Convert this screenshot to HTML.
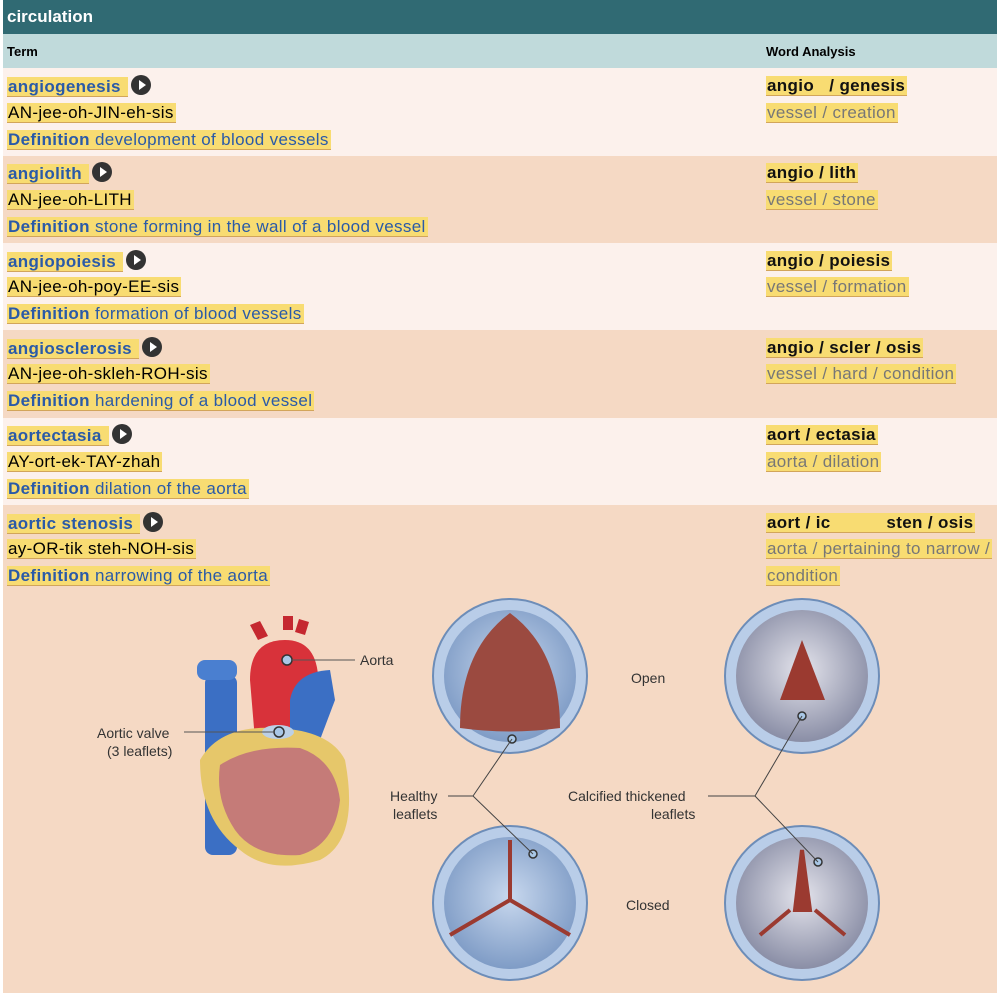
<!DOCTYPE html>
<html><head><meta charset="utf-8"><style>
body{margin:0;width:1000px;height:993px;overflow:hidden;background:#fff;font-family:"Liberation Sans",sans-serif;}
.wrap{position:absolute;left:3px;top:0;width:994px;height:993px;}
.hdr{position:absolute;left:0;top:0;width:994px;height:34px;background:#306a73;color:#fff;font-weight:bold;font-size:17px;line-height:34px;padding-left:4px;box-sizing:border-box;}
.sub{position:absolute;left:0;top:34px;width:994px;height:34px;background:#c0dadb;font-size:13px;font-weight:bold;}
.sub span{position:absolute;top:10px;}
.row{position:absolute;left:0;width:994px;}
.l{background:#fcf1ec}.p{background:#f5d9c4}
.ln{position:absolute;font-size:17px;letter-spacing:0.35px;line-height:21px;white-space:nowrap;}
.h{background:#f8dc72;border-bottom:1.5px solid #d2a55a;padding:0 2px 0 1px;}
.t{color:#2a5aa8;font-weight:bold}
.d{color:#2a5aa8}
.k{color:#111;font-weight:bold}
.g{color:#777}
.play{display:inline-block;width:20px;height:20px;border-radius:50%;background:#333;vertical-align:-3px;position:relative;margin-left:3px}
.play:after{content:"";position:absolute;left:8px;top:5px;border-left:7px solid #fff;border-top:5px solid transparent;border-bottom:5px solid transparent}
</style></head><body><div class="wrap">
<div class="hdr">circulation</div>
<div class="sub"><span style="left:4px">Term</span><span style="left:763px">Word Analysis</span></div>

<div class="row l" style="top:68px;height:88px"></div>
<div class="row p" style="top:156px;height:87px"></div>
<div class="row l" style="top:243px;height:87px"></div>
<div class="row p" style="top:330px;height:88px"></div>
<div class="row l" style="top:418px;height:87px"></div>
<div class="row p" style="top:505px;height:488px"></div>

<div class="ln" style="left:4px;top:75px"><span class="h t">angiogenesis </span><span class="play"></span></div>
<div class="ln" style="left:4px;top:102px"><span class="h">AN-jee-oh-JIN-eh-sis</span></div>
<div class="ln" style="left:4px;top:129px"><span class="h d"><b>Definition</b> development of blood vessels</span></div>
<div class="ln" style="left:763px;top:75px"><span class="h k">angio &nbsp; / genesis</span></div>
<div class="ln" style="left:763px;top:102px"><span class="h g">vessel / creation</span></div>

<div class="ln" style="left:4px;top:162px"><span class="h t">angiolith </span><span class="play"></span></div>
<div class="ln" style="left:4px;top:189px"><span class="h">AN-jee-oh-LITH</span></div>
<div class="ln" style="left:4px;top:216px"><span class="h d"><b>Definition</b> stone forming in the wall of a blood vessel</span></div>
<div class="ln" style="left:763px;top:162px"><span class="h k">angio / lith</span></div>
<div class="ln" style="left:763px;top:189px"><span class="h g">vessel / stone</span></div>

<div class="ln" style="left:4px;top:250px"><span class="h t">angiopoiesis </span><span class="play"></span></div>
<div class="ln" style="left:4px;top:276px"><span class="h">AN-jee-oh-poy-EE-sis</span></div>
<div class="ln" style="left:4px;top:303px"><span class="h d"><b>Definition</b> formation of blood vessels</span></div>
<div class="ln" style="left:763px;top:250px"><span class="h k">angio / poiesis</span></div>
<div class="ln" style="left:763px;top:276px"><span class="h g">vessel / formation</span></div>

<div class="ln" style="left:4px;top:337px"><span class="h t">angiosclerosis </span><span class="play"></span></div>
<div class="ln" style="left:4px;top:363px"><span class="h">AN-jee-oh-skleh-ROH-sis</span></div>
<div class="ln" style="left:4px;top:390px"><span class="h d"><b>Definition</b> hardening of a blood vessel</span></div>
<div class="ln" style="left:763px;top:337px"><span class="h k">angio / scler / osis</span></div>
<div class="ln" style="left:763px;top:363px"><span class="h g">vessel / hard / condition</span></div>

<div class="ln" style="left:4px;top:424px"><span class="h t">aortectasia </span><span class="play"></span></div>
<div class="ln" style="left:4px;top:451px"><span class="h">AY-ort-ek-TAY-zhah</span></div>
<div class="ln" style="left:4px;top:478px"><span class="h d"><b>Definition</b> dilation of the aorta</span></div>
<div class="ln" style="left:763px;top:424px"><span class="h k">aort / ectasia</span></div>
<div class="ln" style="left:763px;top:451px"><span class="h g">aorta / dilation</span></div>

<div class="ln" style="left:4px;top:512px"><span class="h t">aortic stenosis </span><span class="play"></span></div>
<div class="ln" style="left:4px;top:538px"><span class="h">ay-OR-tik steh-NOH-sis</span></div>
<div class="ln" style="left:4px;top:565px"><span class="h d"><b>Definition</b> narrowing of the aorta</span></div>
<div class="ln" style="left:763px;top:512px"><span class="h k">aort / ic &nbsp; &nbsp; &nbsp; &nbsp; &nbsp; sten / osis</span></div>
<div class="ln" style="left:763px;top:538px"><span class="h g">aorta / pertaining to narrow /</span></div>
<div class="ln" style="left:763px;top:565px"><span class="h g">condition</span></div>

<svg style="position:absolute;left:-3px;top:0" width="1000" height="993" font-family="Liberation Sans,sans-serif" font-size="14" fill="#333">
<defs>
<radialGradient id="vb" cx="50%" cy="45%" r="55%"><stop offset="0" stop-color="#c8d8ee"/><stop offset="1" stop-color="#7f9cc6"/></radialGradient>
<radialGradient id="cal" cx="50%" cy="45%" r="55%"><stop offset="0" stop-color="#e4e4ec"/><stop offset="1" stop-color="#8a8ea6"/></radialGradient>
</defs>
<rect x="205" y="675" width="32" height="180" rx="8" fill="#3b6fc4"/>
<rect x="197" y="660" width="40" height="20" rx="8" fill="#4a7fd0"/>
<path d="M250 680 Q250 640 285 640 Q315 640 318 675 L320 735 L255 740Z" fill="#d8323a"/>
<path d="M258 640 l-8 -15 l10 -4 l8 15Z M283 630 v-14 h10 v14Z M295 632 l4 -13 l10 3 l-4 13Z" fill="#c52830"/>
<path d="M290 700 Q295 672 330 670 L335 700 L318 745 L290 740Z" fill="#3b6fc4"/>
<path d="M200 760 Q220 725 275 728 Q330 730 345 760 Q360 840 320 860 Q270 875 240 850 Q200 820 200 760Z" fill="#e6c76a"/>
<path d="M220 765 Q250 745 300 748 Q335 760 340 800 Q335 845 300 855 Q255 858 235 830 Q215 800 220 765Z" fill="#c57b78"/>
<ellipse cx="278" cy="732" rx="16" ry="7" fill="#bcd0e6"/>
<circle cx="287" cy="660" r="5" fill="#a9c7e6" stroke="#333" stroke-width="1.5"/>
<circle cx="279" cy="732" r="5" fill="#a9c7e6" stroke="#333" stroke-width="1.5"/>
<line x1="292" y1="660" x2="355" y2="660" stroke="#555"/>
<line x1="184" y1="732" x2="274" y2="732" stroke="#555"/>
<text x="360" y="665">Aorta</text>
<text x="97" y="738">Aortic valve</text><text x="107" y="756">(3 leaflets)</text>
<circle cx="510" cy="676" r="77" fill="#b9cde8" stroke="#6d8db8" stroke-width="2"/>
<circle cx="510" cy="676" r="66" fill="url(#vb)"/>
<path d="M510 613 Q560 650 560 728 Q510 735 460 728 Q460 650 510 613Z" fill="#9b4a40"/>
<circle cx="510" cy="903" r="77" fill="#b9cde8" stroke="#6d8db8" stroke-width="2"/>
<circle cx="510" cy="903" r="66" fill="url(#vb)"/>
<path d="M510 840 V900 L450 935 M510 900 L570 935" stroke="#9b3a30" stroke-width="4" fill="none"/>
<circle cx="802" cy="676" r="77" fill="#b9cde8" stroke="#6d8db8" stroke-width="2"/>
<circle cx="802" cy="676" r="66" fill="url(#cal)"/>
<path d="M802 640 L825 700 L780 700Z" fill="#9b3a30"/>
<circle cx="802" cy="903" r="77" fill="#b9cde8" stroke="#6d8db8" stroke-width="2"/>
<circle cx="802" cy="903" r="66" fill="url(#cal)"/>
<path d="M802 850 L810 910 L795 910Z M790 910 L760 935 M815 910 L845 935" stroke="#9b3a30" stroke-width="4" fill="#9b3a30"/>
<circle cx="512" cy="739" r="4" fill="#a9c7e6" stroke="#333" stroke-width="1.5"/>
<circle cx="533" cy="854" r="4" fill="#a9c7e6" stroke="#333" stroke-width="1.5"/>
<circle cx="802" cy="716" r="4" fill="#a9c7e6" stroke="#333" stroke-width="1.5"/>
<circle cx="818" cy="862" r="4" fill="#a9c7e6" stroke="#333" stroke-width="1.5"/>
<path d="M448 796 H473 L512 739 M473 796 L533 854" stroke="#444" fill="none"/>
<path d="M708 796 H755 L802 716 M755 796 L818 862" stroke="#444" fill="none"/>
<text x="390" y="801">Healthy</text><text x="393" y="819">leaflets</text>
<text x="568" y="801">Calcified thickened</text><text x="651" y="819">leaflets</text>
<text x="631" y="683">Open</text>
<text x="626" y="910">Closed</text>
</svg>
</div></body></html>
